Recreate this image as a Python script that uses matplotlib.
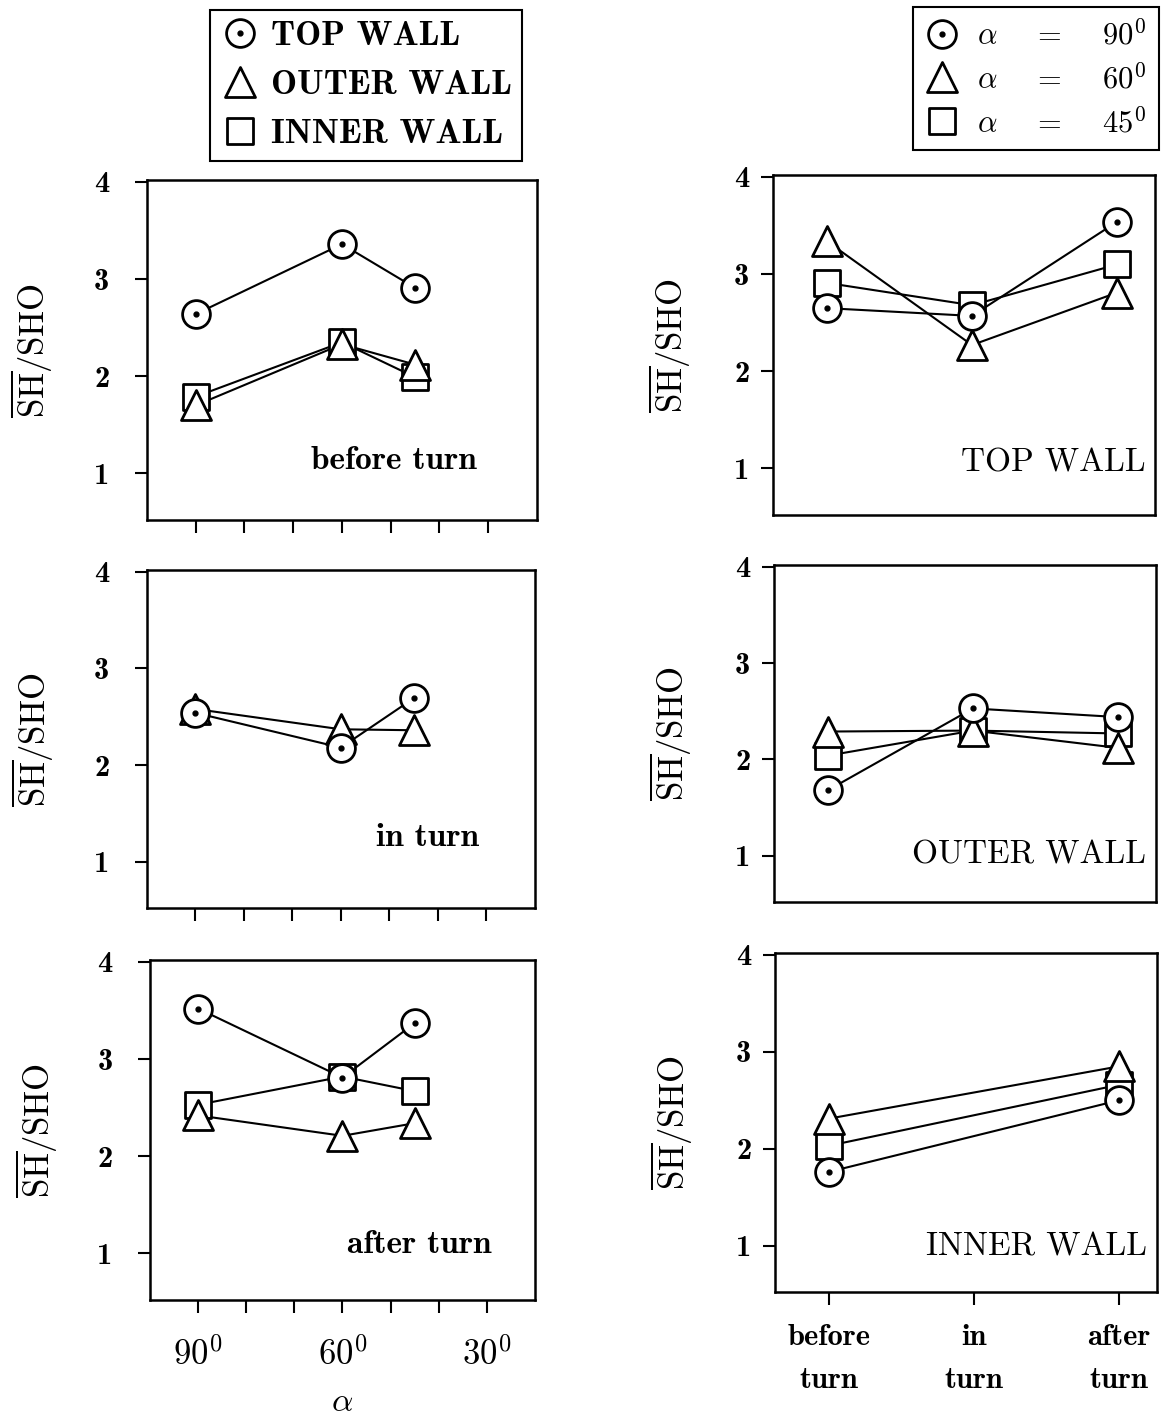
import matplotlib
matplotlib.use("Agg")
import matplotlib.pyplot as plt
from matplotlib.lines import Line2D
from matplotlib.markers import MarkerStyle

plt.rcParams['mathtext.fontset'] = 'cm'

# left column: ratio vs. turn angle alpha, one panel per station
alpha = [90, 60, 45]

before_top = [2.64, 3.36, 2.91]
before_outer = [1.70, 2.33, 2.12]
before_inner = [1.79, 2.35, 1.99]

in_top = [2.54, 2.18, 2.69]
in_outer = [2.58, 2.37, 2.36]

after_top = [3.52, 2.81, 3.37]
after_outer = [2.42, 2.21, 2.34]
after_inner = [2.53, 2.82, 2.67]

alpha_ticks = [90, 80, 70, 60, 50, 40, 30]
alpha_ticklabels = ['$90^0$', '', '', '$60^0$', '', '', '$30^0$']

# right column: ratio vs. station, one panel per wall
stations = ['before\nturn', 'in\nturn', 'after\nturn']
station_pos = [0, 1, 2]
inner_pos = [0, 2]

topwall_90 = [2.65, 2.57, 3.54]
topwall_60 = [3.34, 2.27, 2.81]
topwall_45 = [2.91, 2.68, 3.10]

outerwall_90 = [1.68, 2.53, 2.44]
outerwall_60 = [2.29, 2.30, 2.12]
outerwall_45 = [2.04, 2.30, 2.27]

innerwall_90 = [1.76, 2.50]
innerwall_60 = [2.31, 2.85]
innerwall_45 = [2.03, 2.66]

ylabel = r'$\overline{\mathrm{SH}}/\mathrm{SHO}$'

CIRCLE = dict(marker='o', ms=20, z=5, dot=True)
TRIANGLE = dict(marker=MarkerStyle('^', joinstyle='round'), ms=22, z=4, dot=False)
SQUARE = dict(marker=MarkerStyle('s', joinstyle='round'), ms=18.5, z=3, dot=False)


def series(ax, x, y, style):
    ax.plot(x, y, color='black', lw=1.5, zorder=2)
    ax.plot(x, y, ls='none', marker=style['marker'], ms=style['ms'],
            mfc='white', mec='black', mew=2, zorder=style['z'])
    if style['dot']:
        ax.plot(x, y, ls='none', marker='o', ms=3.5, color='black',
                zorder=style['z'] + 0.1)


def frame(ax, ypad, lbl_x):
    ax.set_ylim(0.52, 4.02)
    ax.set_yticks([1, 2, 3, 4], ['1', '2', '3', '4'], fontfamily='cmb10', fontsize=22)
    ax.tick_params(axis='both', direction='out', length=9, width=1.5, color='black')
    ax.tick_params(axis='y', pad=ypad)
    for s in ax.spines.values():
        s.set_linewidth(1.8)
    ax.set_ylabel(ylabel, fontsize=25)
    ax.yaxis.set_label_coords(lbl_x, 0.5)


fig = plt.figure(figsize=(11.61, 14.22), dpi=100)

left_boxes = [[0.1266, 0.6343, 0.3359, 0.2391],
              [0.1266, 0.3615, 0.3340, 0.2377],
              [0.1292, 0.0858, 0.3316, 0.2391]]
right_boxes = [[0.6658, 0.6378, 0.3290, 0.2391],
               [0.6667, 0.3657, 0.3290, 0.2370],
               [0.6675, 0.0914, 0.3290, 0.2384]]

axl = [fig.add_axes(b) for b in left_boxes]
axr = [fig.add_axes(b) for b in right_boxes]

# left panels
series(axl[0], alpha, before_inner, SQUARE)
series(axl[0], alpha, before_outer, TRIANGLE)
series(axl[0], alpha, before_top, CIRCLE)

series(axl[1], alpha, in_outer, TRIANGLE)
series(axl[1], alpha, in_top, CIRCLE)

series(axl[2], alpha, after_inner, SQUARE)
series(axl[2], alpha, after_outer, TRIANGLE)
series(axl[2], alpha, after_top, CIRCLE)

left_names = ['before turn', 'in turn', 'after turn']
left_text_pos = [(0.845, 0.176), (0.855, 0.207), (0.888, 0.162)]
for ax, name, (tx, ty) in zip(axl, left_names, left_text_pos):
    ax.set_xlim(100, 20)
    ax.set_xticks(alpha_ticks)
    frame(ax, 18, -0.235)
    ax.text(tx, ty, name, transform=ax.transAxes, ha='right', va='center',
            fontfamily='cmb10', fontsize=24)
axl[0].tick_params(axis='x', labelbottom=False)
axl[1].tick_params(axis='x', labelbottom=False)
axl[2].set_xticks(alpha_ticks, alpha_ticklabels, fontsize=25)
axl[2].tick_params(axis='x', pad=18)
axl[2].set_xlabel(r'$\alpha$', fontsize=24, labelpad=9)

# right panels
series(axr[0], station_pos, topwall_45, SQUARE)
series(axr[0], station_pos, topwall_60, TRIANGLE)
series(axr[0], station_pos, topwall_90, CIRCLE)

series(axr[1], station_pos, outerwall_45, SQUARE)
series(axr[1], station_pos, outerwall_60, TRIANGLE)
series(axr[1], station_pos, outerwall_90, CIRCLE)

series(axr[2], inner_pos, innerwall_45, SQUARE)
series(axr[2], inner_pos, innerwall_60, TRIANGLE)
series(axr[2], inner_pos, innerwall_90, CIRCLE)

right_names = ['TOP WALL', 'OUTER WALL', 'INNER WALL']
right_text_pos = [0.153, 0.139, 0.133]
for ax, name, ty in zip(axr, right_names, right_text_pos):
    ax.set_xlim(-0.37, 2.26)
    frame(ax, 8, -0.21)
    ax.text(0.975, ty, name, transform=ax.transAxes, ha='right', va='center',
            fontfamily='cmr10', fontsize=24)
axr[0].set_xticks([])
axr[1].set_xticks([])
axr[2].set_xticks(station_pos, stations, fontfamily='cmb10', fontsize=22,
                  linespacing=1.75)
axr[2].tick_params(axis='x', pad=14)


# legends
def handle(style):
    h = Line2D([], [], ls='none', marker=style['marker'], ms=style['ms'],
               mfc='white', mec='black', mew=2)
    if style['dot']:
        return (h, Line2D([], [], ls='none', marker='o', ms=3.5, color='black'))
    return h


handles = [handle(CIRCLE), handle(TRIANGLE), handle(SQUARE)]

leg1 = fig.legend(handles, ['TOP WALL', 'OUTER WALL', 'INNER WALL'],
                  loc='upper left', bbox_to_anchor=(210 / 1161, 1 - 10 / 1422),
                  prop={'family': 'cmb10', 'size': 25}, frameon=True,
                  fancybox=False, edgecolor='black', framealpha=1,
                  borderpad=0.3, labelspacing=0.52, handlelength=1.1,
                  handletextpad=0.35, borderaxespad=0)
leg1.get_frame().set_linewidth(1.5)

leg2 = fig.legend(handles,
                  [r'$\alpha\quad\ =\quad\ 90^0$', r'$\alpha\quad\ =\quad\ 60^0$',
                   r'$\alpha\quad\ =\quad\ 45^0$'],
                  loc='upper right', bbox_to_anchor=(1159 / 1161, 1 - 7 / 1422),
                  prop={'size': 22}, frameon=True,
                  fancybox=False, edgecolor='black', framealpha=1,
                  borderpad=0.4, labelspacing=0.42, handlelength=1.1,
                  handletextpad=0.6, borderaxespad=0)
leg2.get_frame().set_linewidth(1.5)

fig.savefig('out.png', dpi=100)
